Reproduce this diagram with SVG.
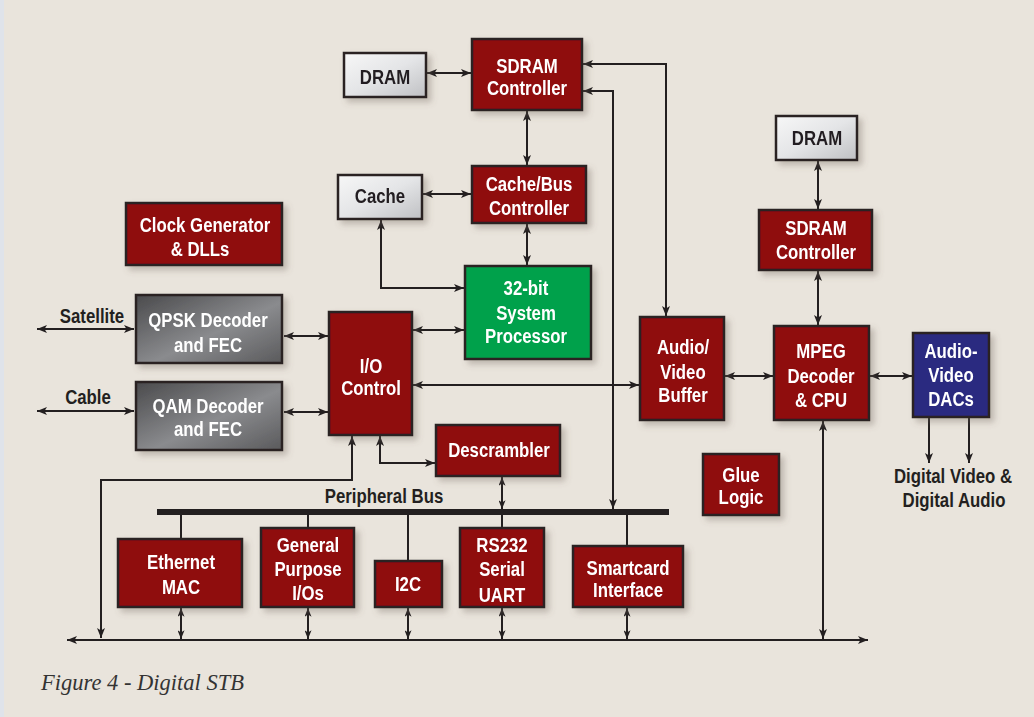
<svg xmlns="http://www.w3.org/2000/svg" width="1034" height="717" viewBox="0 0 1034 717">
<defs>
<linearGradient id="lightg" x1="0" y1="0" x2="1" y2="1"><stop offset="0" stop-color="#f7f7f7"/><stop offset="0.5" stop-color="#e4e5e7"/><stop offset="1" stop-color="#bfc0c3"/></linearGradient>
<linearGradient id="darkg" x1="0" y1="0" x2="1" y2="1"><stop offset="0" stop-color="#4a4a4c"/><stop offset="0.55" stop-color="#8a8b8e"/><stop offset="1" stop-color="#5a5a5c"/></linearGradient>
<filter id="sh" x="-20%" y="-20%" width="150%" height="150%"><feDropShadow dx="4" dy="4" stdDeviation="3" flood-color="#6b6154" flood-opacity="0.35"/></filter>
<marker id="ah" viewBox="0 0 10 8" refX="10" refY="4" markerWidth="10" markerHeight="8" markerUnits="userSpaceOnUse" orient="auto-start-reverse"><path d="M0,0 L10,4 L0,8 L2.5,4 z" fill="#231f20"/></marker>
<marker id="as" viewBox="0 0 10 8" refX="10" refY="4" markerWidth="9" markerHeight="7" markerUnits="userSpaceOnUse" orient="auto-start-reverse"><path d="M0,0 L10,4 L0,8 L2.5,4 z" fill="#231f20"/></marker>
</defs>
<style>
.red{fill:#8f0a0f;stroke:#2a2222;stroke-width:2.5}
.grn{fill:#00a14b;stroke:#2a2222;stroke-width:2.5}
.blu{fill:#2a2a80;stroke:#2a2222;stroke-width:2.5}
.lgt{fill:url(#lightg);stroke:#2a2222;stroke-width:2.5}
.drk{fill:url(#darkg);stroke:#2a2222;stroke-width:2.5}
text{font-family:"Liberation Sans",Arial,sans-serif;font-weight:bold;font-size:21px;text-anchor:middle}
.w{fill:#ffffff}
.k{fill:#231f20}
.cap{font-family:"Liberation Serif","Times New Roman",serif;font-weight:normal;font-style:italic;font-size:22.5px;text-anchor:start;fill:#333}
.ln{fill:none;stroke:#231f20;stroke-width:2}
.d{marker-start:url(#ah);marker-end:url(#ah)}
.e{marker-end:url(#ah)}
.ds{marker-start:url(#as);marker-end:url(#as)}
</style>
<rect width="1034" height="717" fill="#e9e4dc"/>
<rect x="0" y="0" width="4" height="717" fill="#dfe3ea"/>

<g id="connectors">
<path class="ln d" d="M427,73 H471"/>
<path class="ln d" d="M527,111 V165"/>
<path class="ln d" d="M423,194 H471"/>
<path class="ln d" d="M527,224 V265"/>
<path class="ln d" d="M381,220 V288 H464"/>
<path class="ln d" d="M413,330 H464"/>
<path class="ln d" d="M413,385 H639"/>
<path class="ln d" d="M583,64 H666 V316"/>
<path class="ln d" d="M583,91 H613 V509"/>
<path class="ln d" d="M37,329 H134"/>
<path class="ln d" d="M37,411 H134"/>
<path class="ln d" d="M284,336 H328"/>
<path class="ln d" d="M284,412 H328"/>
<path class="ln d" d="M380,436 V463 H435"/>
<path class="ln d" d="M352,436 V480 H101 V638"/>
<path class="ln ds" d="M502,477 V509"/>
<line x1="157" y1="512" x2="669" y2="512" stroke="#231f20" stroke-width="6"/>
<path class="ln" d="M181,515 V539 M308,515 V528 M408,515 V561 M502,515 V528 M627,515 V546"/>
<path class="ln ds" d="M181,608 V639"/>
<path class="ln ds" d="M308,608 V639"/>
<path class="ln ds" d="M408,608 V639"/>
<path class="ln ds" d="M502,608 V639"/>
<path class="ln ds" d="M627,608 V639"/>
<path class="ln d" d="M67,640 H868"/>
<path class="ln d" d="M823,421 V639"/>
<path class="ln d" d="M725,376 H773"/>
<path class="ln d" d="M870,376 H912"/>
<path class="ln e" d="M929,418 V463"/>
<path class="ln e" d="M969,418 V463"/>
<path class="ln d" d="M818,161 V209"/>
<path class="ln d" d="M818,271 V325"/>
</g>

<g id="dram1" filter="url(#sh)"><rect class="lgt" x="344" y="53" width="82" height="44"/><text class="k" transform="translate(385 84) scale(0.8 1)">DRAM</text></g>
<g id="sdram1" filter="url(#sh)"><rect class="red" x="472" y="39" width="110" height="71"/><text class="w" transform="translate(527 73) scale(0.8 1)">SDRAM</text><text class="w" transform="translate(527 95) scale(0.8 1)">Controller</text></g>
<g id="cache" filter="url(#sh)"><rect class="lgt" x="338" y="175" width="84" height="44"/><text class="k" transform="translate(380 203) scale(0.8 1)">Cache</text></g>
<g id="cachebus" filter="url(#sh)"><rect class="red" x="472" y="166" width="114" height="57"/><text class="w" transform="translate(529 191) scale(0.8 1)">Cache/Bus</text><text class="w" transform="translate(529 215) scale(0.8 1)">Controller</text></g>
<g id="clock" filter="url(#sh)"><rect class="red" x="126" y="203" width="156" height="62"/><text class="w" transform="translate(205 232) scale(0.8 1)">Clock Generator</text><text class="w" transform="translate(200 256) scale(0.8 1)">&amp; DLLs</text></g>
<g id="cpu32" filter="url(#sh)"><rect class="grn" x="465" y="266" width="126" height="93"/><text class="w" transform="translate(526 295) scale(0.8 1)">32-bit</text><text class="w" transform="translate(526 320) scale(0.8 1)">System</text><text class="w" transform="translate(526 343) scale(0.8 1)">Processor</text></g>
<g id="qpsk" filter="url(#sh)"><rect class="drk" x="136" y="295" width="146" height="68"/><text class="w" transform="translate(208 327) scale(0.8 1)">QPSK Decoder</text><text class="w" transform="translate(208 352) scale(0.8 1)">and FEC</text></g>
<g id="qam" filter="url(#sh)"><rect class="drk" x="136" y="382" width="146" height="68"/><text class="w" transform="translate(208 413) scale(0.8 1)">QAM Decoder</text><text class="w" transform="translate(208 436) scale(0.8 1)">and FEC</text></g>
<g id="io" filter="url(#sh)"><rect class="red" x="329" y="312" width="83" height="123"/><text class="w" transform="translate(371 373) scale(0.8 1)">I/O</text><text class="w" transform="translate(371 395) scale(0.8 1)">Control</text></g>
<g id="descrambler" filter="url(#sh)"><rect class="red" x="436" y="425" width="124" height="51"/><text class="w" transform="translate(499 457) scale(0.8 1)">Descrambler</text></g>
<g id="avbuf" filter="url(#sh)"><rect class="red" x="640" y="317" width="84" height="103"/><text class="w" transform="translate(683 354) scale(0.8 1)">Audio/</text><text class="w" transform="translate(683 379) scale(0.8 1)">Video</text><text class="w" transform="translate(683 402) scale(0.8 1)">Buffer</text></g>
<g id="mpeg" filter="url(#sh)"><rect class="red" x="774" y="326" width="95" height="94"/><text class="w" transform="translate(821 358) scale(0.8 1)">MPEG</text><text class="w" transform="translate(821 383) scale(0.8 1)">Decoder</text><text class="w" transform="translate(821 407) scale(0.8 1)">&amp; CPU</text></g>
<g id="dacs" filter="url(#sh)"><rect class="blu" x="913" y="333" width="76" height="84"/><text class="w" transform="translate(951 358) scale(0.8 1)">Audio-</text><text class="w" transform="translate(951 382) scale(0.8 1)">Video</text><text class="w" transform="translate(951 406) scale(0.8 1)">DACs</text></g>
<g id="dram2" filter="url(#sh)"><rect class="lgt" x="776" y="116" width="81" height="44"/><text class="k" transform="translate(817 145) scale(0.8 1)">DRAM</text></g>
<g id="sdram2" filter="url(#sh)"><rect class="red" x="759" y="210" width="113" height="60"/><text class="w" transform="translate(816 235) scale(0.8 1)">SDRAM</text><text class="w" transform="translate(816 259) scale(0.8 1)">Controller</text></g>
<g id="glue" filter="url(#sh)"><rect class="red" x="703" y="454" width="76" height="61"/><text class="w" transform="translate(741 482) scale(0.8 1)">Glue</text><text class="w" transform="translate(741 504) scale(0.8 1)">Logic</text></g>
<g id="ethernet" filter="url(#sh)"><rect class="red" x="118" y="539" width="124" height="68"/><text class="w" transform="translate(181 569) scale(0.8 1)">Ethernet</text><text class="w" transform="translate(181 594) scale(0.8 1)">MAC</text></g>
<g id="gpio" filter="url(#sh)"><rect class="red" x="261" y="528" width="93" height="79"/><text class="w" transform="translate(308 552) scale(0.8 1)">General</text><text class="w" transform="translate(308 576) scale(0.8 1)">Purpose</text><text class="w" transform="translate(308 600) scale(0.8 1)">I/Os</text></g>
<g id="i2c" filter="url(#sh)"><rect class="red" x="375" y="561" width="67" height="46"/><text class="w" transform="translate(408 591) scale(0.8 1)">I2C</text></g>
<g id="uart" filter="url(#sh)"><rect class="red" x="460" y="528" width="84" height="79"/><text class="w" transform="translate(502 552) scale(0.8 1)">RS232</text><text class="w" transform="translate(502 576) scale(0.8 1)">Serial</text><text class="w" transform="translate(502 602) scale(0.8 1)">UART</text></g>
<g id="smartcard" filter="url(#sh)"><rect class="red" x="573" y="546" width="110" height="61"/><text class="w" transform="translate(628 575) scale(0.8 1)">Smartcard</text><text class="w" transform="translate(628 597) scale(0.8 1)">Interface</text></g>

<g id="labels">
<text class="k" transform="translate(92 323) scale(0.8 1)">Satellite</text>
<text class="k" transform="translate(88 404) scale(0.8 1)">Cable</text>
<text class="k" transform="translate(384 503) scale(0.8 1)">Peripheral Bus</text>
<text class="k" transform="translate(953 483) scale(0.8 1)">Digital Video &amp;</text>
<text class="k" transform="translate(954 507) scale(0.8 1)">Digital Audio</text>
<text class="cap" x="41" y="690">Figure 4 - Digital STB</text>
</g>
</svg>
